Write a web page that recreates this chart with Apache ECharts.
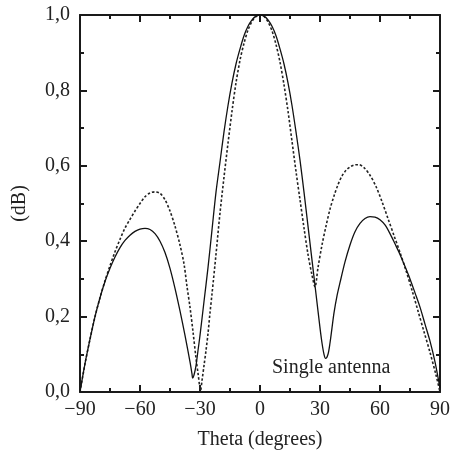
<!DOCTYPE html>
<html>
<head>
<meta charset="utf-8">
<script src="https://cdn.jsdelivr.net/npm/echarts@6/dist/echarts.min.js"></script>
<style>
html,body{margin:0;padding:0;background:#fff;}
#chart{width:454px;height:460px;}
</style>
</head>
<body>
<div id="chart"></div>
<script>
// Solid curve (theta in degrees, normalized value)
var solidTheta = [-90,-87.5,-85,-82.5,-80,-77.5,-75,-72.5,-70,-67.5,-65,-62.5,-60,-57.5,-55,-52.5,-50,-47.5,-45,-42.5,-40,-37.5,-35,-34,-33.7,-33,-32,-31,-30,-28,-26,-24,-22,-20,-18,-16,-14,-12,-10,-8,-6,-4,-2,0,2,4,6,8,10,12,14,16,18,20,22,24,26,28,30,31,32,32.8,34,35,36,37,38.5,40,42.5,45,47.5,50,52.5,55,57.5,60,62.5,65,67.5,70,72.5,75,77.5,80,82.5,85,87.5,90];
var solidValues = [0,0.075,0.14,0.2,0.25,0.293,0.328,0.358,0.383,0.402,0.416,0.426,0.432,0.434,0.431,0.42,0.4,0.37,0.328,0.275,0.215,0.15,0.08,0.048,0.037,0.045,0.07,0.11,0.15,0.24,0.33,0.43,0.53,0.61,0.69,0.76,0.82,0.87,0.91,0.945,0.97,0.987,0.997,1.0,0.997,0.987,0.97,0.945,0.91,0.87,0.82,0.76,0.69,0.615,0.53,0.44,0.35,0.26,0.17,0.13,0.10,0.089,0.10,0.13,0.17,0.21,0.255,0.29,0.345,0.39,0.425,0.447,0.46,0.465,0.464,0.457,0.443,0.42,0.393,0.365,0.333,0.30,0.263,0.225,0.18,0.135,0.08,0.01];

// Dashed curve
var dashedTheta = [-90,-87.5,-85,-82.5,-80,-77.5,-75,-72.5,-70,-67.5,-65,-62.5,-60,-57.5,-55,-52.5,-50,-47.5,-45,-42.5,-40,-38,-36.5,-35,-33.5,-32,-31,-29.7,-29,-28,-27,-26,-25,-24,-22,-20,-18,-16,-14,-12,-10,-8,-6,-4,-2,0,2,4,6,8,10,12,14,16,18,20,22,24,26,27.5,29,31,33,35,37,39,41,43,45,47,49.5,52,55,58,61,64,67,70,73,76,79,82,85,88,90];
var dashedValues = [0,0.075,0.14,0.2,0.25,0.295,0.335,0.372,0.405,0.435,0.458,0.48,0.5,0.518,0.528,0.531,0.527,0.51,0.48,0.44,0.39,0.34,0.28,0.225,0.16,0.09,0.05,0.005,0.03,0.07,0.11,0.155,0.21,0.26,0.365,0.475,0.57,0.66,0.745,0.82,0.88,0.925,0.96,0.983,0.996,1.0,0.996,0.982,0.958,0.922,0.875,0.815,0.745,0.665,0.585,0.51,0.435,0.365,0.31,0.279,0.33,0.39,0.44,0.485,0.52,0.55,0.573,0.588,0.597,0.602,0.603,0.595,0.575,0.545,0.505,0.46,0.415,0.37,0.322,0.27,0.215,0.16,0.105,0.045,0.0];

var xTicks = [-90,-60,-30,0,30,60,90];
var yTicks = [0,0.2,0.4,0.6,0.8,1.0];

function pairs(xs, ys){ var out=[]; for(var i=0;i<xs.length;i++){ out.push([xs[i], ys[i]]); } return out; }

var font = '"Liberation Serif", "DejaVu Serif", serif';
var axisLine = {show:true, onZero:false, lineStyle:{color:'#1a1a1a', width:2}};
var axisTick = {show:true, inside:true, length:7, lineStyle:{color:'#1a1a1a', width:2}};
var minorTick = {show:true, splitNumber:2, length:4, lineStyle:{color:'#1a1a1a', width:2}};

var chart = echarts.init(document.getElementById('chart'), null, {renderer:'canvas'});
chart.setOption({
  animation:false,
  backgroundColor:'#ffffff',
  grid:{left:80, right:14, top:15, bottom:68, containLabel:false},
  xAxis:[{
    type:'value', min:-90, max:90, interval:30, position:'bottom',
    axisLine:axisLine, axisTick:axisTick, minorTick:minorTick, splitLine:{show:false},
    axisLabel:{fontFamily:font, fontSize:20, color:'#222', margin:8,
      formatter:function(v){ return v<0 ? '\u2212'+Math.abs(v) : String(v); }},
    name:'Theta (degrees)', nameLocation:'middle', nameGap:38,
    nameTextStyle:{fontFamily:font, fontSize:20, color:'#222'}
  },{
    type:'value', min:-90, max:90, interval:30, position:'top',
    axisLine:axisLine, axisTick:axisTick, minorTick:minorTick, splitLine:{show:false},
    axisLabel:{show:false}
  }],
  yAxis:[{
    type:'value', min:0, max:1, interval:0.2, position:'left',
    axisLine:axisLine, axisTick:axisTick, minorTick:minorTick, splitLine:{show:false},
    axisLabel:{fontFamily:font, fontSize:20, color:'#222', margin:10,
      formatter:function(v){ return v.toFixed(1).replace('.', ','); }},
    name:'(dB)', nameLocation:'middle', nameGap:50, nameRotate:90,
    nameTextStyle:{fontFamily:font, fontSize:20, color:'#222'}
  },{
    type:'value', min:0, max:1, interval:0.2, position:'right',
    axisLine:axisLine, axisTick:axisTick, minorTick:minorTick, splitLine:{show:false},
    axisLabel:{show:false}
  }],
  graphic:[{
    type:'text', left:272, top:358,
    style:{text:'Single antenna', fontFamily:font, fontSize:20, fill:'#222'}
  }],
  series:[{
    type:'line', data:pairs(dashedTheta, dashedValues), xAxisIndex:0, yAxisIndex:0,
    showSymbol:false, smooth:0.3,
    lineStyle:{color:'#222', width:1.6, type:[2.5,2]}
  },{
    type:'line', data:pairs(solidTheta, solidValues), xAxisIndex:0, yAxisIndex:0,
    showSymbol:false, smooth:0.3,
    lineStyle:{color:'#111', width:1.3, type:'solid'}
  }]
});
</script>
</body>
</html>
